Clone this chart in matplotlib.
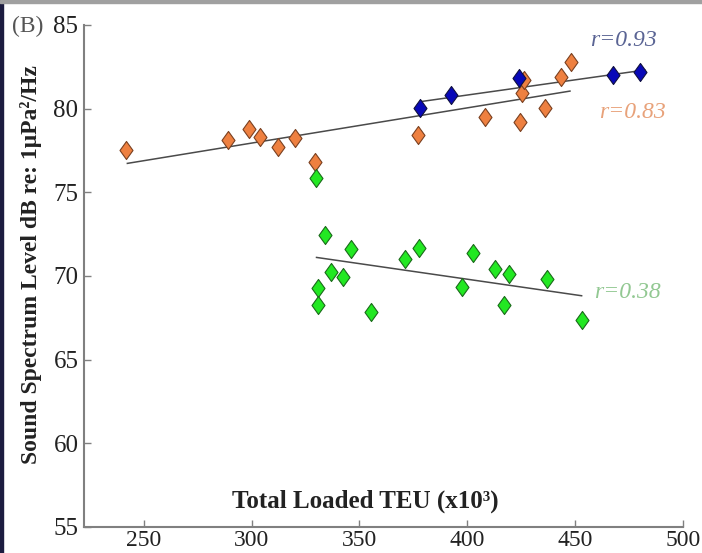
import matplotlib
matplotlib.use("Agg")
import matplotlib.pyplot as plt
from matplotlib.path import Path
from matplotlib.patches import Rectangle

# ---------------- data ----------------
orange_x = [242.0, 289.0, 299.0, 303.9, 312.1, 320.2, 329.5, 377.2, 408.2, 424.5, 425.3, 426.1, 436.1, 443.5, 448.1]
orange_y = [77.53, 78.13, 78.77, 78.32, 77.69, 78.23, 76.83, 78.40, 79.53, 79.22, 80.92, 81.71, 80.02, 81.91, 82.81]

blue_x = [378.3, 392.6, 424.0, 467.6, 480.0]
blue_y = [80.02, 80.79, 81.84, 82.01, 82.17]

green_x = [329.8, 334.1, 330.9, 330.9, 336.7, 342.4, 346.0, 355.2, 371.0, 377.5, 397.5, 402.6, 412.7, 416.8, 419.4, 436.8, 453.0]
green_y = [75.84, 72.45, 69.26, 68.26, 70.26, 69.96, 71.59, 67.86, 70.99, 71.65, 69.32, 71.35, 70.39, 68.26, 70.12, 69.80, 67.37]

orange_fit_x = [242.4, 447.6]
orange_fit_y = [76.73, 81.05]
blue_fit_x = [378.3, 482.3]
blue_fit_y = [80.42, 82.31]
green_fit_x = [330.1, 453.0]
green_fit_y = [71.11, 68.82]

r_labels = ["r=0.93", "r=0.83", "r=0.38"]
x_ticks = [250, 300, 350, 400, 450, 500]
y_ticks = [55, 60, 65, 70, 75, 80, 85]

# ---------------- style ----------------
plt.rcParams['font.family'] = ['Liberation Serif', 'DejaVu Serif']

fig = plt.figure(figsize=(7.02, 5.53), dpi=100)
ax = fig.add_axes([84/702, 26/553, (683-84)/702, (528-26)/553])

diamond = Path([(0, 1), (0.72, 0), (0, -1), (-0.72, 0), (0, 1)],
               [Path.MOVETO, Path.LINETO, Path.LINETO, Path.LINETO, Path.CLOSEPOLY])

line_kw = dict(color='#4a4a4a', lw=1.1, zorder=2)
ax.plot(orange_fit_x, orange_fit_y, **line_kw)
ax.plot(blue_fit_x, blue_fit_y, **line_kw)
ax.plot(green_fit_x, green_fit_y, **line_kw)

ms = 13
ax.plot(orange_x, orange_y, ls='none', marker=diamond, ms=ms, mfc='#ee8040', mec='#7a4020', mew=0.8, zorder=3)
ax.plot(blue_x, blue_y, ls='none', marker=diamond, ms=ms, mfc='#0808b8', mec='#101040', mew=0.8, zorder=4)
ax.plot(green_x, green_y, ls='none', marker=diamond, ms=ms, mfc='#22e822', mec='#1a6a1a', mew=0.8, zorder=3)

ax.set_xlim(222.3, 500)
ax.set_ylim(55, 85)
ax.set_xticks(x_ticks)
ax.set_yticks(y_ticks)
ax.tick_params(direction='in', length=5, width=1.0, color='#808080', labelsize=18, pad=4,
               labelcolor='#222222')
ax.tick_params(axis='x', labelsize=17, pad=2)
for s in ['top', 'right']:
    ax.spines[s].set_visible(False)
for s in ['left', 'bottom']:
    ax.spines[s].set_color('#808080')
    ax.spines[s].set_linewidth(1.5)

ax.set_ylabel("Sound Spectrum Level dB re: 1μPa²/Hz", fontsize=17, fontweight='bold', color='#222222')
ax.yaxis.set_label_coords(-42/599, 0.522)
fig.text(365/702, 1 - 501/553, "Total Loaded TEU (x10³)", ha='center', va='center',
         fontsize=18, fontweight='bold', color='#222222')
fig.text(28/702, 1 - 26/553, "(B)", ha='center', va='center', fontsize=17, color='#555555')

fig.text(623/702, 1 - 40/553, r_labels[0], ha='center', va='center', fontsize=17, style='italic', color='#5a6494')
fig.text(632/702, 1 - 112/553, r_labels[1], ha='center', va='center', fontsize=17, style='italic', color='#e8a27a')
fig.text(627/702, 1 - 293/553, r_labels[2], ha='center', va='center', fontsize=17, style='italic', color='#92c892')

# screenshot frame edges
fig.patches.append(Rectangle((0, 0), 3/702, 1, transform=fig.transFigure, color='#1c1c40', zorder=10))
fig.patches.append(Rectangle((0, 1 - 3/553), 1, 3/553, transform=fig.transFigure, color='#a0a0a0', zorder=10))

fig.savefig("out.png", dpi=100)
